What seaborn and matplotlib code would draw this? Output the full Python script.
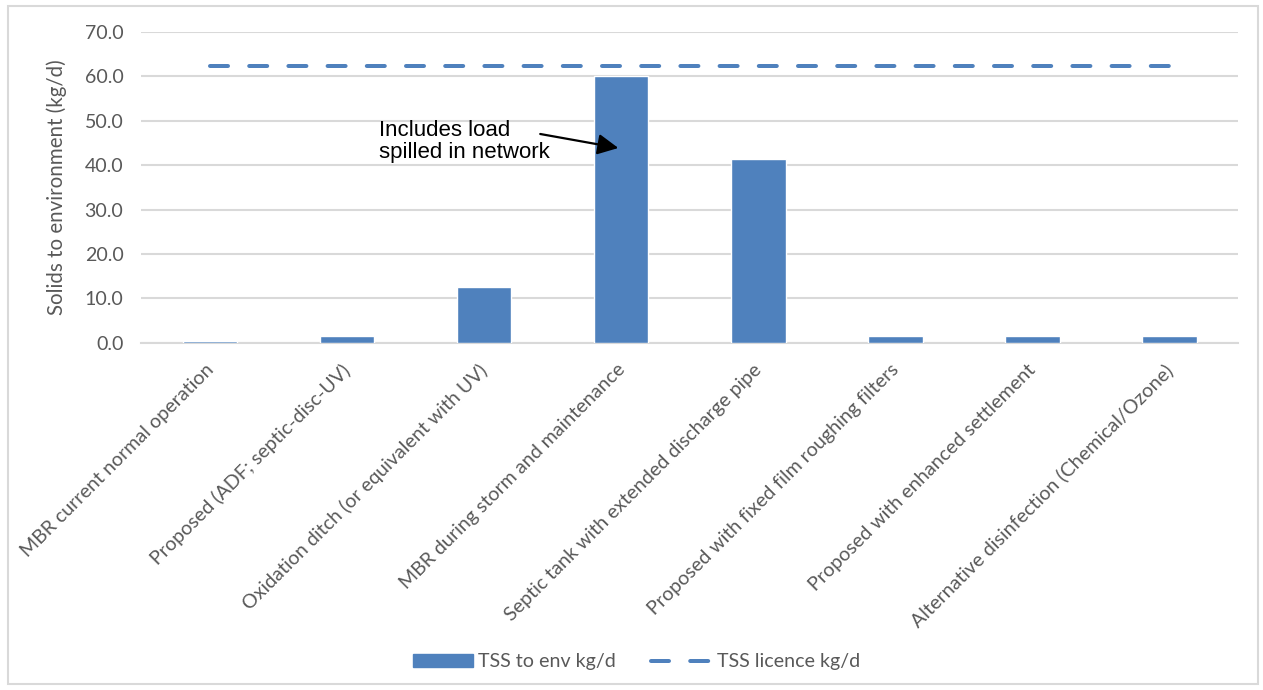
import matplotlib
matplotlib.use("Agg")
import matplotlib.pyplot as plt
import matplotlib.patches as mpatches
import matplotlib.lines as mlines
import matplotlib.transforms as mtransforms
import seaborn as sns
import pandas as pd

# --- data -------------------------------------------------------------
options = [
    "MBR current normal operation",
    "Proposed (ADF; septic-disc-UV)",
    "Oxidation ditch (or equivalent with UV)",
    "MBR during storm and maintenance",
    "Septic tank with extended discharge pipe",
    "Proposed with fixed film roughing filters",
    "Proposed with enhanced settlement",
    "Alternative disinfection (Chemical/Ozone)",
]
tss_to_env = [0.5, 1.5, 12.5, 60.0, 41.4, 1.5, 1.5, 1.5]
tss_licence = [62.4, 62.4, 62.4, 62.4, 62.4, 62.4, 62.4, 62.4]
y_ticks = [0, 10, 20, 30, 40, 50, 60, 70]

df = pd.DataFrame({"option": options, "tss": tss_to_env, "licence": tss_licence})

# --- style ------------------------------------------------------------
sns.set_theme(style="white")
plt.rcParams["font.family"] = ["Lato", "DejaVu Sans"]

BLUE = "#4F81BD"
GREY_TXT = "#595959"
GRID = "#D9D9D9"
FS = 14.1

fig = plt.figure(figsize=(12.63, 6.90), dpi=100)
ax = fig.add_axes([0.112, 0.503, 0.868, 0.451])

sns.barplot(data=df, x="option", y="tss", color=BLUE, saturation=1,
            width=0.4, ax=ax, zorder=3)

# licence limit as a dashed series across the categories
lw_px = 4.0
lw = lw_px * 0.72
dash = (0, (4.5, 5.3))
sns.lineplot(x=list(range(len(options))), y=df["licence"], ax=ax,
             color=BLUE, lw=lw, zorder=4, legend=False)
line = ax.lines[-1]
line.set_linestyle(dash)
line.set_dash_capstyle("round")

ax.set_xlim(-0.5, len(options) - 0.5)
ax.set_ylim(0, 70)
ax.set_yticks(y_ticks)
ax.set_yticklabels([f"{v:.1f}" for v in y_ticks])
ax.yaxis.grid(True, color=GRID, lw=1.5, zorder=0)
ax.set_axisbelow(True)

for side in ["top", "right", "left"]:
    ax.spines[side].set_visible(False)
ax.spines["bottom"].set_color(GRID)
ax.spines["bottom"].set_linewidth(1.5)
ax.spines["bottom"].set_zorder(2)

ax.tick_params(axis="y", length=0, pad=13, labelsize=FS, labelcolor=GREY_TXT)
ax.tick_params(axis="x", length=0, pad=13, labelsize=FS, labelcolor=GREY_TXT)
shift = mtransforms.ScaledTranslation(7 / 100, 0, fig.dpi_scale_trans)
for lab in ax.get_xticklabels():
    lab.set_rotation(45)
    lab.set_ha("right")
    lab.set_transform(lab.get_transform() + shift)

ax.set_xlabel("")
ax.set_ylabel("Solids to environment (kg/d)", fontsize=14.8, color=GREY_TXT,
              labelpad=13)

# annotation for the storm case
ax.text(1.234, 50.2, "Includes load\nspilled in network", ha="left", va="top",
        fontsize=16, family="Liberation Sans", color="black", linespacing=1.05)
ax.annotate("", xy=(2.98, 43.85), xytext=(2.41, 47.0),
            arrowprops=dict(arrowstyle="-|>,head_length=0.9,head_width=0.45",
                            color="black", lw=1.6, shrinkA=0, shrinkB=0,
                            mutation_scale=14))

# legend
bar_handle = mpatches.Patch(color=BLUE, label="TSS to env kg/d")
line_handle = mlines.Line2D([], [], color=BLUE, lw=lw, linestyle=dash,
                            dash_capstyle="round", label="TSS licence kg/d")
fig.legend(handles=[bar_handle, line_handle], loc="center",
           bbox_to_anchor=(0.5 + 5 / 1263, 1 - 662 / 690), ncol=2, frameon=False,
           fontsize=FS, labelcolor=GREY_TXT, handlelength=3.05,
           handleheight=0.6, handletextpad=0.28, columnspacing=1.8)

# chart border
border = mpatches.Rectangle((7.5 / 1263, 6 / 690), (1258 - 7.5) / 1263,
                            (684 - 6) / 690, transform=fig.transFigure,
                            fill=False, edgecolor=GRID, lw=1.5)
fig.patches.append(border)

fig.savefig("out.png", dpi=100)
